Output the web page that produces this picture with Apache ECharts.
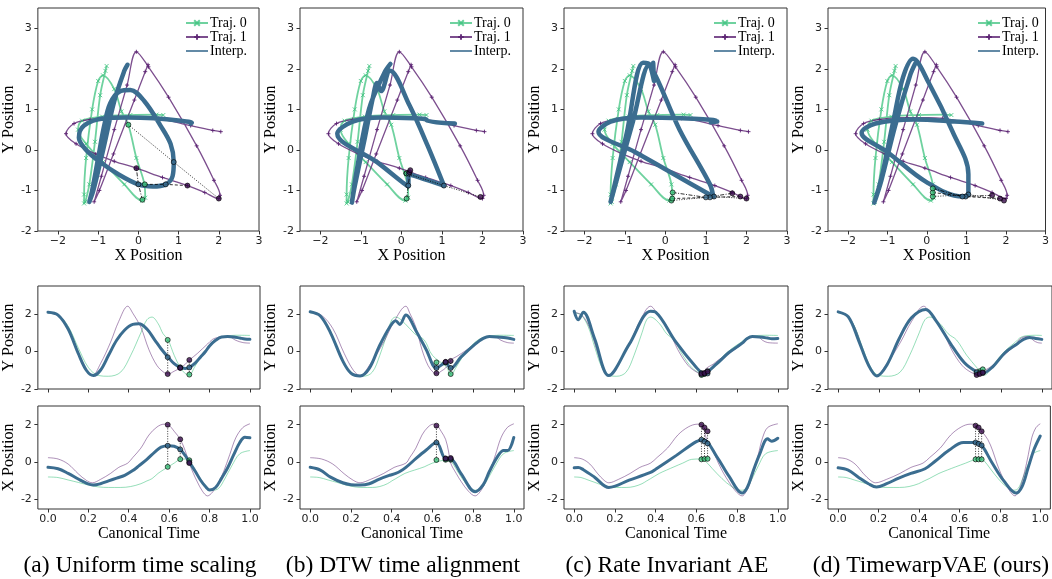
<!DOCTYPE html>
<html>
<head>
<meta charset="utf-8">
<script src="https://cdn.jsdelivr.net/npm/echarts@6.0.0/dist/echarts.min.js"></script>
<style>
html, body { margin: 0; padding: 0; background: #fff; }
#chart { width: 1052px; height: 579px; }
</style>
</head>
<body>
<div id="chart"></div>
<script>
// ---- trajectory 1 (purple), own time s and positions
const T1_S = [0, 0.05, 0.10, 0.15, 0.19, 0.22, 0.26, 0.31, 0.35, 0.395, 0.42, 0.46, 0.50, 0.54, 0.575, 0.595, 0.625, 0.655, 0.68, 0.70, 0.72, 0.74, 0.765, 0.79, 0.815, 0.84, 0.87, 0.90, 0.93, 0.965, 1.00];
const T1_X = [0.24, 0.17, -0.10, -0.62, -0.97, -1.10, -0.92, -0.60, -0.28, -0.05, 0.25, 0.75, 1.45, 1.88, 2.03, 2.00, 1.65, 1.22, 0.60, -0.05, -0.60, -1.06, -1.55, -1.80, -1.60, -1.20, -0.50, 0.40, 1.30, 1.85, 2.05];
const T1_Y = [2.10, 1.93, 1.23, -0.10, -1.00, -1.28, -0.65, 0.50, 1.60, 2.42, 2.05, 1.30, 0.10, -0.75, -1.12, -1.20, -1.05, -0.88, -0.68, -0.45, -0.28, -0.10, 0.15, 0.40, 0.65, 0.75, 0.80, 0.78, 0.60, 0.48, 0.45];
// canonical times of trajectory 1 knots in columns b, c, d
const T1_TB = [0, 0.056, 0.111, 0.167, 0.212, 0.245, 0.296, 0.361, 0.412, 0.47, 0.489, 0.519, 0.549, 0.579, 0.605, 0.62, 0.643, 0.665, 0.679, 0.69, 0.717, 0.743, 0.777, 0.81, 0.833, 0.855, 0.882, 0.91, 0.937, 0.968, 1.0];
const T1_TC = [0, 0.039, 0.077, 0.116, 0.147, 0.17, 0.217, 0.275, 0.322, 0.375, 0.407, 0.458, 0.509, 0.56, 0.605, 0.63, 0.64, 0.65, 0.682, 0.708, 0.734, 0.76, 0.793, 0.825, 0.843, 0.861, 0.882, 0.904, 0.925, 0.95, 1.0];
const T1_TD = [0, 0.042, 0.084, 0.126, 0.16, 0.185, 0.239, 0.306, 0.36, 0.42, 0.453, 0.505, 0.557, 0.609, 0.654, 0.68, 0.71, 0.74, 0.765, 0.785, 0.805, 0.825, 0.85, 0.875, 0.89, 0.905, 0.923, 0.941, 0.958, 0.979, 1.0];

// ---- trajectory 0 (green)
const T0_S = [0, 0.05, 0.10, 0.15, 0.20, 0.25, 0.30, 0.36, 0.41, 0.46, 0.49, 0.515, 0.545, 0.57, 0.595, 0.625, 0.655, 0.68, 0.70, 0.725, 0.755, 0.785, 0.815, 0.845, 0.875, 0.91, 0.95, 1.0];
const T0_X = [-0.79, -0.82, -0.95, -1.08, -1.22, -1.32, -1.35, -1.35, -1.30, -1.15, -1.00, -0.88, -0.60, -0.42, -0.25, -0.05, 0.15, 0.17, 0.10, -0.35, -0.88, -1.30, -1.50, -1.40, -0.90, -0.20, 0.45, 0.62];
const T0_Y = [2.07, 1.95, 1.35, 0.20, -0.85, -1.28, -1.32, -1.10, -0.20, 1.00, 1.70, 1.84, 1.50, 0.95, 0.62, -0.20, -0.85, -1.18, -1.25, -0.85, -0.30, 0.15, 0.50, 0.72, 0.82, 0.86, 0.87, 0.86];
const T0_TB = [0, 0.044, 0.088, 0.132, 0.176, 0.22, 0.26, 0.305, 0.342, 0.379, 0.401, 0.42, 0.465, 0.513, 0.56, 0.60, 0.672, 0.682, 0.69, 0.716, 0.747, 0.779, 0.81, 0.841, 0.872, 0.908, 0.949, 1.0];
const T0_TC = [0, 0.034, 0.068, 0.102, 0.136, 0.17, 0.209, 0.255, 0.294, 0.333, 0.356, 0.375, 0.418, 0.454, 0.49, 0.533, 0.577, 0.619, 0.64, 0.679, 0.726, 0.773, 0.82, 0.847, 0.873, 0.904, 0.94, 1.0];
const T0_TD = [0, 0.04, 0.08, 0.12, 0.16, 0.20, 0.247, 0.304, 0.351, 0.398, 0.426, 0.45, 0.499, 0.54, 0.581, 0.631, 0.68, 0.702, 0.72, 0.753, 0.792, 0.831, 0.87, 0.891, 0.912, 0.937, 0.965, 1.0];

// ---- interpolations (blue), one per column
const IA_T = [0, 0.05, 0.10, 0.15, 0.19, 0.225, 0.26, 0.30, 0.34, 0.38, 0.42, 0.45, 0.49, 0.53, 0.56, 0.595, 0.625, 0.655, 0.68, 0.70, 0.73, 0.755, 0.78, 0.80, 0.83, 0.86, 0.89, 0.92, 0.95, 0.975, 1.0];
const IA_X = [-0.27, -0.35, -0.60, -0.90, -1.12, -1.22, -1.15, -1.00, -0.85, -0.70, -0.45, -0.20, 0.15, 0.55, 0.80, 0.88, 0.85, 0.68, 0.35, 0.00, -0.50, -0.95, -1.30, -1.48, -1.35, -0.85, -0.30, 0.40, 1.05, 1.33, 1.30];
const IA_Y = [2.10, 1.95, 1.20, -0.10, -1.00, -1.28, -1.00, -0.20, 0.60, 1.15, 1.45, 1.48, 1.20, 0.60, 0.15, -0.30, -0.65, -0.85, -0.90, -0.85, -0.60, -0.30, 0.00, 0.30, 0.60, 0.78, 0.80, 0.78, 0.72, 0.67, 0.65];

const IB_T = [0, 0.05, 0.10, 0.16, 0.20, 0.245, 0.29, 0.34, 0.39, 0.42, 0.44, 0.47, 0.52, 0.57, 0.62, 0.665, 0.69, 0.74, 0.81, 0.85, 0.88, 0.92, 0.95, 0.97, 1.0];
const IB_X = [-0.27, -0.42, -0.80, -1.10, -1.20, -1.22, -1.15, -0.90, -0.70, -0.60, -0.50, -0.28, 0.20, 0.65, 1.05, 0.18, 0.17, -0.60, -1.58, -1.20, -0.50, 0.30, 0.62, 0.62, 1.32];
const IB_Y = [2.12, 1.90, 1.00, -0.50, -1.15, -1.30, -0.90, 0.30, 1.30, 1.65, 1.45, 1.95, 1.10, 0.10, -0.88, -0.60, -0.90, -0.30, 0.40, 0.70, 0.80, 0.78, 0.75, 0.72, 0.65];

const IC_T = [0, 0.02, 0.045, 0.10, 0.17, 0.27, 0.375, 0.40, 0.50, 0.60, 0.635, 0.70, 0.76, 0.825, 0.85, 0.875, 0.91, 0.95, 0.97, 1.0];
const IC_X = [-0.30, -0.28, -0.40, -0.80, -1.35, -0.96, -0.55, -0.38, 0.35, 1.10, 1.18, 0.30, -0.75, -1.65, -1.35, -0.60, 0.40, 1.25, 1.12, 1.28];
const IC_Y = [2.15, 1.70, 2.10, 0.70, -1.28, 0.38, 2.15, 2.10, 0.50, -0.85, -1.15, -0.65, -0.05, 0.45, 0.70, 0.80, 0.78, 0.72, 0.68, 0.70];

const ID_T = [0, 0.05, 0.10, 0.15, 0.19, 0.24, 0.30, 0.36, 0.43, 0.48, 0.55, 0.62, 0.68, 0.71, 0.76, 0.82, 0.88, 0.91, 0.94, 0.97, 1.0];
const ID_X = [-0.30, -0.42, -0.80, -1.15, -1.33, -1.15, -0.85, -0.60, -0.35, 0.05, 0.65, 1.05, 1.05, 0.90, 0.00, -1.00, -1.65, -1.30, -0.30, 0.70, 1.40];
const ID_Y = [2.12, 1.85, 0.60, -0.75, -1.30, -0.70, 0.70, 1.80, 2.25, 1.65, 0.45, -0.60, -1.08, -1.15, -0.80, -0.05, 0.42, 0.65, 0.75, 0.70, 0.65];

// ---- highlighted correspondence points, per column
const MK_T  = [[0.593, 0.655, 0.70], [0.62, 0.665, 0.69], [0.625, 0.64, 0.655], [0.68, 0.695, 0.71]];
const MK_X0 = [[-0.25, 0.16, 0.10], [0.12, 0.13, 0.13], [0.15, 0.17, 0.18], [0.15, 0.15, 0.15]];
const MK_Y0 = [[0.62, -0.85, -1.23], [-0.58, -0.58, -1.20], [-1.25, -1.20, -1.05], [-1.15, -1.05, -0.95]];
const MK_XI = [[0.88, 0.68, 0.00], [1.05, 0.18, 0.17], [1.20, 1.10, 1.00], [1.05, 0.98, 0.90]];
const MK_YI = [[-0.30, -0.85, -0.85], [-0.88, -0.58, -0.88], [-1.15, -1.17, -1.17], [-1.10, -1.15, -1.15]];
const MK_X1 = [[2.00, 1.22, -0.05], [1.95, 0.20, 0.22], [2.00, 1.85, 1.65], [1.95, 1.85, 1.65]];
const MK_Y1 = [[-1.20, -0.88, -0.45], [-1.16, -0.55, -0.50], [-1.20, -1.15, -1.07], [-1.25, -1.20, -1.12]];

const CAPTIONS = ['(a) Uniform time scaling', '(b) DTW time alignment', '(c) Rate Invariant AE', '(d) TimewarpVAE (ours)'];
const XY_TICKS = [-2, -1, 0, 1, 2, 3];
const TIME_TICKS = [0, 0.2, 0.4, 0.6, 0.8, 1.0];
const POS_TICKS = [-2, 0, 2];

const T0_T = [T0_S, T0_TB, T0_TC, T0_TD];
const T1_T = [T1_S, T1_TB, T1_TC, T1_TD];
const I_T = [IA_T, IB_T, IC_T, ID_T];
const I_X = [IA_X, IB_X, IC_X, ID_X];
const I_Y = [IA_Y, IB_Y, IC_Y, ID_Y];

const COL_LEFT = [36, 300, 564, 828];
const CAPTION_X = [140, 403, 667, 931];
const GREEN = '#3fc37f', PURPLE = '#5b2272', BLUE = '#3b6d90';
const DOT_GREEN = '#3cc07a', DOT_PURPLE = '#3a0d4c', DOT_BLUE = '#3b6d90';
const SERIF = 'Liberation Serif', SANS = 'DejaVu Sans';
const X_SYM = 'path://M0,0L10,10M10,0L0,10';
const P_SYM = 'path://M5,0L5,10M0,5L10,5';
const LINE_ICON = 'path://M0,0L22,0L22,1.6L0,1.6Z';
const LINK_DASH = [[1, 1.5], [3, 2], [4, 1.5, 1, 1.5]];

function pairs(xs, ys) { return xs.map((x, i) => [x, ys[i]]); }
const minusFmt = v => v < 0 ? '\u2212' + (-v) : String(v);

const grid = [], xAxis = [], yAxis = [], series = [], legend = [], graphic = [];

function axis(gi, min, max, ticks, fmt, name, gap, showLabel, margin) {
  return {
    type: 'value', gridIndex: gi, min: min, max: max,
    splitLine: { show: false },
    axisLine: { show: false, onZero: false },
    axisTick: { show: true, length: 3.5, customValues: ticks, lineStyle: { color: '#333', width: 1 } },
    axisLabel: { show: showLabel, customValues: ticks, formatter: fmt, margin: margin,
      fontFamily: SANS, fontSize: 11, color: '#222' },
    name: name, nameLocation: 'middle', nameGap: gap,
    nameTextStyle: { fontFamily: SERIF, fontSize: 16, color: '#000' }
  };
}

function markerSeries(gi, xs, ys, color) {
  return {
    type: 'scatter', xAxisIndex: gi, yAxisIndex: gi, data: pairs(xs, ys),
    symbol: 'circle', symbolSize: 5, z: 6, silent: true,
    itemStyle: { color: color, borderColor: '#000', borderWidth: 0.8 }
  };
}

for (let c = 0; c < 4; c++) {
  const left = COL_LEFT[c];
  const g0 = 3 * c, g1 = 3 * c + 1, g2 = 3 * c + 2;
  grid.push({ left: left, top: 8, width: 223, height: 223, show: true, borderColor: '#333', borderWidth: 1 });
  grid.push({ left: left, top: 286, width: 224, height: 103, show: true, borderColor: '#333', borderWidth: 1 });
  grid.push({ left: left, top: 406, width: 224, height: 103, show: true, borderColor: '#333', borderWidth: 1 });

  xAxis.push(axis(g0, -2.5, 3, XY_TICKS, minusFmt, 'X Position', 17, true, 5));
  yAxis.push(axis(g0, -2, 3.5, XY_TICKS, v => String(v), 'Y Position', 8, true, 6));
  xAxis.push(axis(g1, -0.05, 1.05, TIME_TICKS, v => v.toFixed(1), '', 10, false, 3));
  yAxis.push(axis(g1, -2, 3.5, POS_TICKS, v => String(v), 'Y Position', 12, true, 6));
  xAxis.push(axis(g2, -0.05, 1.05, TIME_TICKS, v => v.toFixed(1), 'Canonical Time', 17, true, 4.5));
  yAxis.push(axis(g2, -2.5, 3, POS_TICKS, v => String(v), 'X Position', 12, true, 6));

  // XY plot
  series.push({
    name: 'Traj. 0', type: 'line', xAxisIndex: g0, yAxisIndex: g0, data: pairs(T0_X, T0_Y),
    smooth: 0.35, symbol: X_SYM, symbolSize: 4, showSymbol: true, z: 2, silent: true,
    lineStyle: { color: GREEN, width: 1.8, opacity: 0.75 },
    itemStyle: { color: GREEN, borderColor: GREEN, borderWidth: 1, opacity: 0.8 }
  });
  series.push({
    name: 'Traj. 1', type: 'line', xAxisIndex: g0, yAxisIndex: g0, data: pairs(T1_X, T1_Y),
    smooth: 0.35, symbol: P_SYM, symbolSize: 4, showSymbol: true, z: 2, silent: true,
    lineStyle: { color: PURPLE, width: 1.3, opacity: 0.8 },
    itemStyle: { color: PURPLE, borderColor: PURPLE, borderWidth: 1, opacity: 0.9 }
  });
  series.push({
    name: 'Interp.', type: 'line', xAxisIndex: g0, yAxisIndex: g0, data: pairs(I_X[c], I_Y[c]),
    smooth: 0.35, symbol: 'none', z: 3, silent: true,
    itemStyle: { color: BLUE },
    lineStyle: { color: BLUE, width: 4.5, cap: 'round', join: 'round' }
  });
  for (let k = 0; k < 3; k++) {
    series.push({
      name: 'link', type: 'line', xAxisIndex: g0, yAxisIndex: g0, symbol: 'none', z: 5, silent: true,
      data: [[MK_X0[c][k], MK_Y0[c][k]], [MK_XI[c][k], MK_YI[c][k]], [MK_X1[c][k], MK_Y1[c][k]]],
      lineStyle: { color: '#000', width: 0.8, type: LINK_DASH[k] }
    });
  }
  series.push(markerSeries(g0, MK_X0[c], MK_Y0[c], DOT_GREEN));
  series.push(markerSeries(g0, MK_XI[c], MK_YI[c], DOT_BLUE));
  series.push(markerSeries(g0, MK_X1[c], MK_Y1[c], DOT_PURPLE));

  // time plots: Y then X
  const plots = [[g1, T0_Y, T1_Y, I_Y[c], MK_Y0[c], MK_YI[c], MK_Y1[c]],
                 [g2, T0_X, T1_X, I_X[c], MK_X0[c], MK_XI[c], MK_X1[c]]];
  plots.forEach(p => {
    const gi = p[0];
    series.push({ name: 'y0', type: 'line', xAxisIndex: gi, yAxisIndex: gi, data: pairs(T0_T[c], p[1]),
      smooth: 0.35, symbol: 'none', z: 2, silent: true, lineStyle: { color: GREEN, width: 1, opacity: 0.55 } });
    series.push({ name: 'y1', type: 'line', xAxisIndex: gi, yAxisIndex: gi, data: pairs(T1_T[c], p[2]),
      smooth: 0.35, symbol: 'none', z: 2, silent: true, lineStyle: { color: PURPLE, width: 1, opacity: 0.5 } });
    series.push({ name: 'yi', type: 'line', xAxisIndex: gi, yAxisIndex: gi, data: pairs(I_T[c], p[3]),
      smooth: 0.35, symbol: 'none', z: 3, silent: true, lineStyle: { color: BLUE, width: 3, cap: 'round' } });
    for (let k = 0; k < 3; k++) {
      const t = MK_T[c][k];
      series.push({ name: 'vlink', type: 'line', xAxisIndex: gi, yAxisIndex: gi, symbol: 'none', z: 5, silent: true,
        data: [[t, p[4][k]], [t, p[5][k]], [t, p[6][k]]],
        lineStyle: { color: '#000', width: 0.8, type: [1, 1.5] } });
    }
    series.push(markerSeries(gi, MK_T[c], p[4], DOT_GREEN));
    series.push(markerSeries(gi, MK_T[c], p[5], DOT_BLUE));
    series.push(markerSeries(gi, MK_T[c], p[6], DOT_PURPLE));
  });

  legend.push({
    left: 185 + 264 * c, top: 16, orient: 'vertical', padding: 0,
    itemWidth: 22, itemHeight: 7, itemGap: 0, selectedMode: false,
    textStyle: { fontFamily: SERIF, fontSize: 14, color: '#000', padding: [0, 0, 0, -3] },
    data: ['Traj. 0', 'Traj. 1', { name: 'Interp.', icon: LINE_ICON, itemStyle: { color: BLUE } }]
  });

  graphic.push({
    type: 'text', x: CAPTION_X[c], y: 566, silent: true,
    style: { text: CAPTIONS[c], font: '23.5px "Liberation Serif"', fill: '#000',
      textAlign: 'center', textVerticalAlign: 'middle', verticalAlign: 'middle' }
  });
}

const chart = echarts.init(document.getElementById('chart'), null, { renderer: 'canvas' });
chart.setOption({
  animation: false,
  backgroundColor: '#fff',
  grid: grid, xAxis: xAxis, yAxis: yAxis,
  legend: legend, graphic: graphic, series: series
});
</script>
</body>
</html>
